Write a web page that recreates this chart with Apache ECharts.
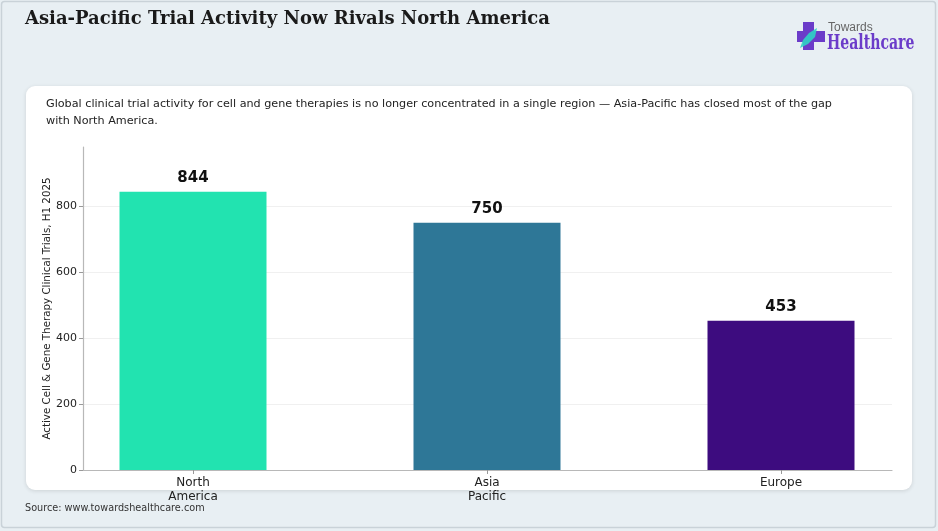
<!DOCTYPE html>
<html>
<head>
<meta charset="utf-8">
<script src="https://cdn.jsdelivr.net/npm/echarts@6/dist/echarts.min.js"></script>
<style>
  html, body { margin: 0; padding: 0; background: #e8eff3; }
  #chart { width: 938px; height: 531px; }
</style>
</head>
<body>
<div id="chart"></div>
<script>
var regions = ['North\nAmerica', 'Asia\nPacific', 'Europe'];
var trials = [844, 750, 453];
var barColors = ['#22e3b0', '#2e7797', '#3d0c7f'];
var yTicks = [0, 200, 400, 600, 800];

var chart = echarts.init(document.getElementById('chart'));

var option = {
    backgroundColor: '#e8eff3',
    animation: false,
    graphic: [
        // outer frame
        { type: 'rect', shape: { x: 1.5, y: 1.5, width: 934, height: 526, r: 3 },
          style: { fill: 'none', stroke: '#c9d2d8', lineWidth: 1.5 }, z: -10 },
        // white card
        { type: 'rect', shape: { x: 26, y: 86, width: 886, height: 404, r: 9 },
          style: { fill: '#ffffff', shadowColor: 'rgba(0,0,0,0.12)', shadowBlur: 4, shadowOffsetY: 1 }, z: -9 },
        // title
        { type: 'text', x: 25, y: 10,
          style: { text: 'Asia-Pacific Trial Activity Now Rivals North America',
                   font: 'bold 18px "DejaVu Serif"', fill: '#1a1a1a' } },
        // subtitle
        { type: 'text', x: 46, y: 96,
          style: { text: 'Global clinical trial activity for cell and gene therapies is no longer concentrated in a single region \u2014 Asia-Pacific has closed most of the gap\nwith North America.',
                   font: '11.2px "DejaVu Sans"', fill: '#222', lineHeight: 17 } },
        // source
        { type: 'text', x: 25, y: 503,
          style: { text: 'Source: www.towardshealthcare.com', font: '9.7px "DejaVu Sans"', fill: '#333' } },
        // logo cross
        { type: 'rect', shape: { x: 803, y: 22, width: 11, height: 28 }, style: { fill: '#6b3cc9' } },
        { type: 'rect', shape: { x: 797, y: 31, width: 28, height: 11 }, style: { fill: '#6b3cc9' } },
        { type: 'polygon', shape: { points: [[800, 48], [803, 40], [809, 33], [817, 28], [815, 37], [808, 44]] },
          style: { fill: '#2fd3c4', opacity: 0.9 } },
        { type: 'text', x: 828, y: 22,
          style: { text: 'Towards', font: '12px "Liberation Sans"', fill: '#666' } },
        { type: 'text', x: 827, y: 33, scaleX: 0.67,
          style: { text: 'Healthcare', font: 'bold 21px "DejaVu Serif"', fill: '#6b3cc9' } }
    ],
    grid: [
        { left: 46, right: 10, top: 147, bottom: 61 },
        { left: 83, right: 46, top: 147, bottom: 61 }
    ],
    xAxis: [
        {
            type: 'category', gridIndex: 0, data: regions,
            axisLine: { show: false },
            axisTick: { show: true, alignWithLabel: true, length: 4, lineStyle: { color: '#999' } },
            axisLabel: { color: '#222', fontSize: 12, fontFamily: 'DejaVu Sans', lineHeight: 14, margin: 6 }
        },
        {
            type: 'value', gridIndex: 1, min: 0, max: 1,
            axisLine: { show: true, lineStyle: { color: '#b8b8b8', width: 1.2 } },
            axisTick: { show: false }, axisLabel: { show: false }, splitLine: { show: false }
        }
    ],
    yAxis: [
        { type: 'value', gridIndex: 0, min: 0, max: 980, show: false, splitLine: { show: false } },
        {
            type: 'value', gridIndex: 1, min: 0, max: 980, interval: 200,
            name: 'Active Cell & Gene Therapy Clinical Trials, H1 2025',
            nameLocation: 'middle', nameGap: 31, nameMoveOverlap: false,
            nameTextStyle: { color: '#222', fontSize: 10.3, fontFamily: 'DejaVu Sans' },
            axisLine: { show: true, lineStyle: { color: '#b8b8b8', width: 1.2 } },
            axisTick: { show: true, length: 4, lineStyle: { color: '#999' } },
            axisLabel: {
                color: '#222', fontSize: 11, fontFamily: 'DejaVu Sans', margin: 6,
                showMaxLabel: false,
                formatter: function (v) { return yTicks.indexOf(v) >= 0 ? String(v) : ''; }
            },
            splitLine: { show: true, lineStyle: { color: ['#f0f0f0', '#f0f0f0', '#f0f0f0', '#f0f0f0', '#f0f0f0', 'rgba(0,0,0,0)'], width: 1 } }
        }
    ],
    series: [{
        type: 'bar',
        xAxisIndex: 0, yAxisIndex: 0,
        barWidth: 147,
        data: trials.map(function (v, i) {
            return { value: v, itemStyle: { color: barColors[i] } };
        }),
        label: {
            show: true, position: 'top', distance: 6,
            color: '#111', fontSize: 15, fontWeight: 'bold', fontFamily: 'DejaVu Sans'
        }
    }]
};

chart.setOption(option);
window.onresize = function () { chart.resize(); };
</script>
</body>
</html>
